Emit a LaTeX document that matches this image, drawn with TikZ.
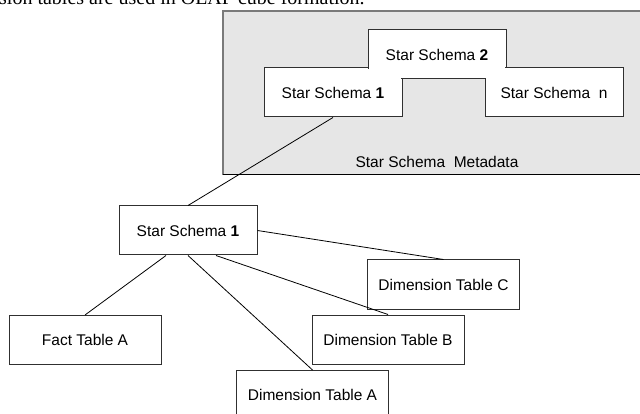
\documentclass[tikz,border=0pt]{standalone}
\usepackage{fontspec}
\setmainfont{Liberation Sans}
\newfontfamily\captionserif{Liberation Serif}
\usetikzlibrary{calc}

\definecolor{panelgrey}{HTML}{E6E6E6}
\definecolor{panelrim}{HTML}{7A7A7A}
\definecolor{boxrim}{HTML}{303030}

\tikzset{
  boxframe/.style={draw=boxrim, line width=1pt, fill=white, inner sep=0pt,
    minimum width=#1, minimum height=49pt},
  boxframe/.default=138pt,
  boxfill/.style={fill=white, inner sep=0pt,
    minimum width=#1, minimum height=47.6pt},
  boxfill/.default=136.6pt,
  boxtext/.style={font=\fontsize{15.5}{18}\selectfont, inner sep=0pt},
  table/.style={boxframe=152pt, font=\fontsize{15.5}{18}\selectfont},
  link/.style={draw=black, line width=0.8pt},
}

\begin{document}
\begin{tikzpicture}[x=1pt, y=-1pt]
  \useasboundingbox (0,0) rectangle (640,414);
  \clip (0,0) rectangle (640,414);

  % running text of the page above the figure
  \node[anchor=base west, inner sep=0pt, font=\captionserif\fontsize{20}{24}\selectfont]
    (caption) at (-1,5) {sion tables are used in OLAP cube formation.};

  % metadata panel
  \fill[panelgrey] (223,11) rectangle (646,175);
  \draw[panelrim, line width=1.3pt] (223,175) -- (223,11) -- (646,11);
  \draw[black, line width=1pt] (223,175) -- (646,175);
  \node[boxtext] (meta) at (437,162) {Star Schema\ \ Metadata};

  % overlapping schema boxes: outlines first, then white interiors
  \node[boxframe] (ssa) at (333,92.5) {};
  \node[boxframe] (ss2) at (437,54.5) {};
  \node[boxframe] (ssn) at (554,92.5) {};
  \node[boxfill] (ssa-in) at (ssa.center) {};
  \node[boxfill] (ss2-in) at (ss2.center) {};
  \node[boxfill] (ssn-in) at (ssn.center) {};
  \node[boxtext] (ssa-t) at (ssa.center) {Star Schema \textbf{1}};
  \node[boxtext] (ss2-t) at (ss2.center) {Star Schema \textbf{2}};
  \node[boxtext] (ssn-t) at (ssn.center) {Star Schema\ \ n};

  % expanded star schema and its tables
  \node[boxframe, font=\fontsize{15.5}{18}\selectfont] (ss) at (188,230.5) {Star Schema \textbf{1}};
  \node[table] (fact) at (85,340) {Fact Table A};
  \node[table] (dima) at (312.5,395) {Dimension Table A};
  \node[table] (dimb) at (388,339.5) {Dimension Table B};
  \node[table] (dimc) at (443.5,284.5) {Dimension Table C};

  % connectors
  \draw[link] (ssa.south) -- (ss.north);
  \draw[link] ([xshift=-22pt]ss.south) -- (fact.north);
  \draw[link] (ss.south) -- (dima.north);
  \draw[link] ([xshift=28pt]ss.south) -- (dimb.north);
  \draw[link] (ss.east) -- (dimc.north);
\end{tikzpicture}
\end{document}
